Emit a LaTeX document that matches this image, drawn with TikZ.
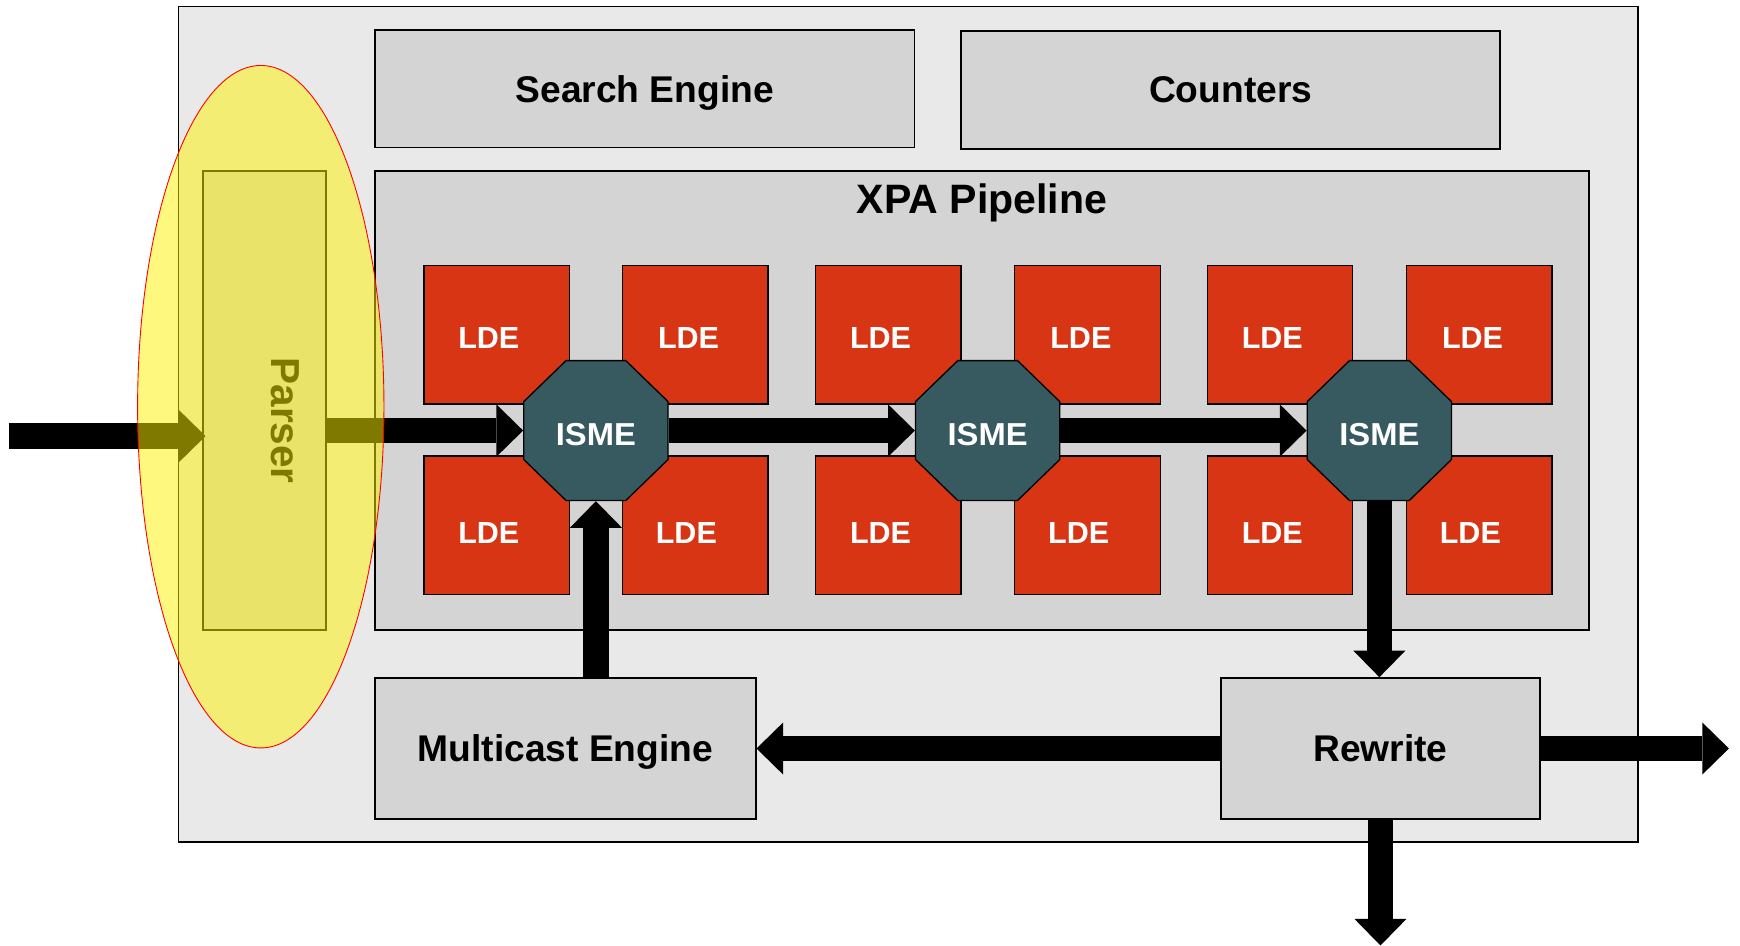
\documentclass[tikz,border=0pt]{standalone}
\usepackage{fontspec}
\setmainfont{Liberation Sans}
\usetikzlibrary{arrows.meta,shapes.geometric}
\definecolor{outerbg}{HTML}{E9E9E9}
\definecolor{boxbg}{HTML}{D4D4D4}
\definecolor{ldered}{HTML}{D83515}
\definecolor{ismeteal}{HTML}{365A5F}
\begin{document}
\begin{tikzpicture}[x=1pt,y=-1pt,
  outerbox/.style={draw=black, line width=1.5pt, fill=outerbg, rectangle, inner sep=0pt},
  graybox/.style={draw=black, line width=1.5pt, fill=boxbg, rectangle, inner sep=0pt, text depth=0pt,
    font=\fontsize{33.5}{40}\selectfont\bfseries},
  ldebox/.style={draw=black, line width=1.2pt, fill=ldered, rectangle, inner sep=0pt,
    minimum width=131pt, minimum height=125pt},
  ldetext/.style={text=white, inner sep=0pt, text depth=0pt, font=\fontsize{27.5}{33}\selectfont\bfseries},
  isme/.style={regular polygon, regular polygon sides=8, minimum size=140.7pt, inner sep=0pt,
    draw=black, line width=1.2pt, fill=ismeteal, text=white, text height=27pt, text depth=0pt,
    yscale=0.97, transform shape,
    font=\fontsize{29.5}{35}\selectfont\bfseries},
  titletext/.style={inner sep=0pt, text depth=0pt, font=\fontsize{37}{44}\selectfont\bfseries},
  parsertext/.style={inner sep=0pt, text depth=0pt, rotate=-90, font=\fontsize{36.5}{44}\selectfont\bfseries},
  blockarrow/.style={line width=23pt, draw=black, -{Triangle[length=24pt,width=47pt,line width=0pt]}},
]
\useasboundingbox (0,0) rectangle (1568,852);

% frames
\node[outerbox, minimum width=1315pt, minimum height=753pt] (outer) at (818.5,382.5) {};
\node[graybox, minimum width=486pt, minimum height=106pt] (search) at (581,80) {Search Engine};
\node[graybox, minimum width=486pt, minimum height=106pt] (counters) at (1109,81) {Counters};
\node[graybox, minimum width=1094pt, minimum height=414pt] (xpa) at (885,361) {};
\node[titletext] (xpatitle) at (885,179) {XPA Pipeline};
\node[graybox, minimum width=111pt, minimum height=414pt] (parser) at (238.5,361) {};
\node[parsertext] (parsertext) at (257,379) {Parser};
\node[graybox, minimum width=343pt, minimum height=127pt] (multicast) at (509.5,674.5) {Multicast Engine};
\node[graybox, minimum width=288pt, minimum height=127pt] (rewrite) at (1244,674.5) {Rewrite};

% LDE boxes
\foreach \g/\xl/\xr in {1/447.5/626.5, 2/800.5/980, 3/1153.5/1333} {
  \node[ldebox, label={[ldetext, xshift=-7pt, yshift=-3.5pt]center:LDE}] (lde\g tl) at (\xl,301.5) {};
  \node[ldebox, label={[ldetext, xshift=-6pt, yshift=-3.5pt]center:LDE}] (lde\g tr) at (\xr,301.5) {};
  \node[ldebox, label={[ldetext, xshift=-7pt, yshift=-6.5pt]center:LDE}] (lde\g bl) at (\xl,473.5) {};
  \node[ldebox, label={[ldetext, xshift=-8pt, yshift=-6.5pt]center:LDE}] (lde\g br) at (\xr,473.5) {};
}

% ISME engines
\node[isme] (isme1) at (537,388) {ISME};
\node[isme] (isme2) at (890,388) {ISME};
\node[isme] (isme3) at (1243,388) {ISME};

% free ends
\coordinate (inp) at (8,393);
\coordinate (outr) at (1558,674.5);
\coordinate (outd) at (1244,852);

% arrows
\draw[blockarrow] (inp) -- ([xshift=3pt]parser.west |- inp);
\draw[blockarrow] (parser.east |- isme1.west) -- (isme1.west);
\draw[blockarrow] (isme1.east) -- (isme2.west);
\draw[blockarrow] (isme2.east) -- (isme3.west);
\draw[blockarrow] (isme3.south) -- (isme3.south |- rewrite.north);
\draw[blockarrow] (rewrite.west) -- (multicast.east);
\draw[blockarrow] (isme1.south |- multicast.north) -- (isme1.south);
\draw[blockarrow] (rewrite.east) -- (outr);
\draw[blockarrow] (rewrite.south) -- (outd);

% highlight ellipse
\draw[red, line width=0.8pt, fill=yellow, fill opacity=0.5] (235,366.5) ellipse [x radius=111, y radius=307.5];
\end{tikzpicture}
\end{document}
